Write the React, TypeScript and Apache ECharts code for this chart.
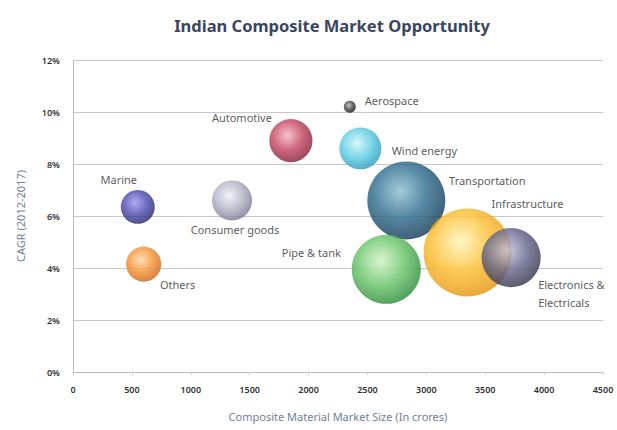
import React, { useEffect, useRef } from "react";
import * as echarts from "echarts";

const categories = [
  "Marine",
  "Others",
  "Consumer goods",
  "Automotive",
  "Aerospace",
  "Wind energy",
  "Transportation",
  "Infrastructure",
  "Pipe & tank",
  "Electronics &\nElectricals",
];
// Composite material market size (crores)
const marketSize = [550, 600, 1350, 1850, 2350, 2440, 2830, 3350, 2660, 3720];
// CAGR 2012-2017 (%)
const cagr = [6.35, 4.15, 6.6, 8.9, 10.2, 8.6, 6.6, 4.6, 3.95, 4.4];
// relative bubble magnitude
const bubble = [72, 77, 100, 116, 9, 110, 380, 484, 298, 218];

const xTicks = { min: 0, max: 4500, interval: 500 };
const yTicks = { min: 0, max: 12, interval: 2 };

const palette: Record<string, [string, string, string]> = {
  Marine: ["#9a9ae6", "#4848b2", "#26266a"],
  Others: ["#ffd6a8", "#f5922e", "#cf6418"],
  "Consumer goods": ["#f0f0f6", "#b2b2c6", "#7a7a92"],
  Automotive: ["#f2b4c4", "#c4425e", "#861c38"],
  Aerospace: ["#b0b0b0", "#444444", "#101010"],
  "Wind energy": ["#d0f6fb", "#5ccde2", "#2a9cbc"],
  Transportation: ["#8cbccf", "#2a6a8c", "#113a56"],
  Infrastructure: ["#fff4b8", "#fbbc2a", "#e6960e"],
  "Pipe & tank": ["#d0f2c8", "#66c466", "#2c8c3c"],
  "Electronics &\nElectricals": ["#c6c6de", "#66668e", "#33334c"],
};

const labelOffsets: Record<string, [number, number]> = {
  Marine: [-19, -27],
  Others: [34, 20],
  "Consumer goods": [3, 29],
  Automotive: [-49, -23],
  Aerospace: [42, -6],
  "Wind energy": [64, 2],
  Transportation: [81, -20],
  Infrastructure: [60, -49],
  "Pipe & tank": [-75, -17],
  "Electronics &\nElectricals": [27, 36],
};

function sphere(c: [string, string, string]) {
  return {
    type: "radial",
    x: 0.42,
    y: 0.38,
    r: 0.62,
    colorStops: [
      { offset: 0, color: c[0] },
      { offset: 0.55, color: c[1] },
      { offset: 1, color: c[2] },
    ],
  };
}

export default function App() {
  const ref = useRef<HTMLDivElement>(null);
  useEffect(() => {
    if (!ref.current) return;
    const chart = echarts.init(ref.current, undefined, { renderer: "svg" });
    const font = "Noto Sans";
    const data = categories.map((name, i) => {
      const isLeft = name.startsWith("Electronics");
      return {
        name,
        value: [marketSize[i], cagr[i], bubble[i]],
        itemStyle: { color: sphere(palette[name]) },
        label: {
          show: true,
          position: "inside",
          offset: labelOffsets[name],
          align: isLeft ? "left" : "center",
          lineHeight: 18,
        },
      };
    });
    chart.setOption({
      animation: false,
      backgroundColor: "#ffffff",
      title: {
        text: "Indian Composite Market Opportunity",
        left: 327,
        top: 12,
        textAlign: "center",
        textStyle: {
          fontFamily: font,
          fontSize: 16.5,
          fontWeight: "bold",
          color: "#3a4560",
        },
      },
      grid: { left: 73, right: 14, top: 60, bottom: 58 },
      xAxis: {
        type: "value",
        min: xTicks.min,
        max: xTicks.max,
        interval: xTicks.interval,
        name: "Composite Material Market Size (In crores)",
        nameLocation: "middle",
        nameGap: 39,
        nameTextStyle: { fontFamily: font, fontSize: 11, color: "#6f7f96" },
        axisLine: { show: true, lineStyle: { color: "#bbbbbb" } },
        axisTick: { show: true, length: 3, lineStyle: { color: "#cccccc" } },
        axisLabel: {
          fontFamily: font,
          fontSize: 9,
          fontWeight: 600,
          color: "#333333",
          margin: 13,
          showMaxLabel: true,
          formatter: (v: number) => String(v),
        },
        splitLine: { show: false },
      },
      yAxis: {
        type: "value",
        min: yTicks.min,
        max: yTicks.max,
        interval: yTicks.interval,
        name: "CAGR (2012-2017)",
        nameLocation: "middle",
        nameGap: 47,
        nameTextStyle: { fontFamily: font, fontSize: 11, color: "#6f7f96" },
        axisLine: { show: true, lineStyle: { color: "#bbbbbb" } },
        axisTick: { show: false },
        axisLabel: {
          fontFamily: font,
          fontSize: 9,
          fontWeight: 600,
          color: "#333333",
          margin: 13,
          formatter: (v: number) => v + "%",
        },
        splitLine: { show: true, lineStyle: { color: "#c8c8c8", width: 1 } },
      },
      series: [
        {
          type: "scatter",
          data,
          symbolSize: (v: number[]) => Math.sqrt(v[2]) * 4,
          label: {
            fontFamily: font,
            fontSize: 11,
            color: "#2e2e2e",
            formatter: (p: any) => p.name,
          },
          emphasis: { disabled: true },
        },
      ],
    });
    return () => chart.dispose();
  }, []);
  return (
    <div
      ref={ref}
      style={{ position: "fixed", left: 0, top: 0, width: 617, height: 430 }}
    />
  );
}
